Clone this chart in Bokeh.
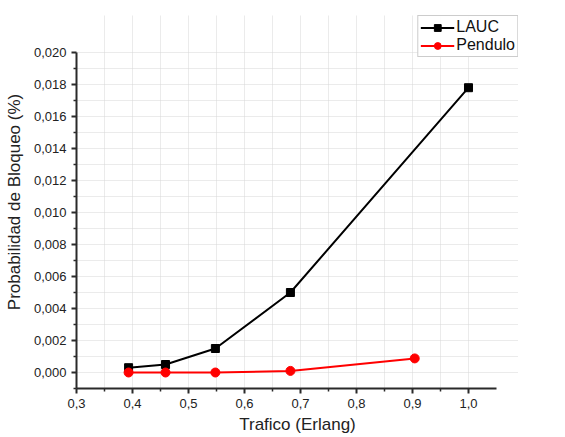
from bokeh.plotting import figure
from bokeh.models import Range1d, FixedTicker, CustomJSTickFormatter, Legend, LegendItem
from bokeh.embed import file_html
from bokeh.resources import INLINE

# Data
lauc_x = [0.393, 0.459, 0.548, 0.682, 1.0]
lauc_y = [0.0003, 0.0005, 0.0015, 0.0050, 0.0178]
pend_x = [0.393, 0.459, 0.548, 0.682, 0.904]
pend_y = [0.0, 0.0, 0.0, 0.0001, 0.00088]
x_ticks = [0.3, 0.4, 0.5, 0.6, 0.7, 0.8, 0.9, 1.0]
y_ticks = [0.000, 0.002, 0.004, 0.006, 0.008, 0.010, 0.012, 0.014, 0.016, 0.018, 0.020]

FONT = "Liberation Sans"

p = figure(width=565, height=437, output_backend="svg", toolbar_location=None,
           x_range=Range1d(0.3, 1.0893), y_range=Range1d(-0.001, 0.022313),
           min_border_left=76, min_border_right=47, min_border_top=15, min_border_bottom=49)
p.outline_line_color = None

p.xaxis.ticker = FixedTicker(ticks=x_ticks, minor_ticks=[0.35 + 0.1 * i for i in range(7)])
p.yaxis.ticker = FixedTicker(ticks=y_ticks, minor_ticks=[-0.001 + 0.002 * i for i in range(11)])
p.xaxis.formatter = CustomJSTickFormatter(code="return tick.toFixed(1).replace('.', ',');")
p.yaxis.formatter = CustomJSTickFormatter(code="return tick.toFixed(3).replace('.', ',');")
p.xaxis.bounds = (0.3, 1.05)
p.yaxis.bounds = (-0.001, 0.020)

for ax in (p.xaxis, p.yaxis):
    ax.axis_line_color = "#2a2a2a"
    ax.axis_line_width = 2
    ax.major_tick_line_color = "#2a2a2a"
    ax.major_tick_line_width = 2
    ax.minor_tick_line_color = "#2a2a2a"
    ax.minor_tick_line_width = 1.5
    ax.major_tick_out = 5
    ax.major_tick_in = 0
    ax.minor_tick_out = 3
    ax.minor_tick_in = 0
    ax.major_label_text_font = FONT
    ax.major_label_text_font_size = "13px"
    ax.major_label_text_color = "#222222"
    ax.axis_label_text_font = FONT
    ax.axis_label_text_font_size = "17px"
    ax.axis_label_text_font_style = "normal"
    ax.axis_label_text_color = "#222222"

p.xaxis.axis_label = "Trafico (Erlang)"
p.yaxis.axis_label = "Probabilidad de Bloqueo (%)"
p.xaxis.major_label_standoff = 5
p.xaxis.axis_label_standoff = 4
p.yaxis.major_label_standoff = 5
p.yaxis.axis_label_standoff = 7

for g in (p.xgrid, p.ygrid):
    g.grid_line_color = "#d6d6d6"
    g.grid_line_dash = "1 1"
    g.grid_line_width = 1
    g.minor_grid_line_color = "#d6d6d6"
    g.minor_grid_line_dash = "1 1"
    g.minor_grid_line_width = 1
p.xgrid.bounds = (0.3, 1.05)
p.ygrid.bounds = (-0.001, 0.020)

l1 = p.line(lauc_x, lauc_y, line_color="black", line_width=2)
m1 = p.scatter(lauc_x, lauc_y, marker="square", size=8, fill_color="black", line_color="black")
l2 = p.line(pend_x, pend_y, line_color="red", line_width=2)
m2 = p.scatter(pend_x, pend_y, marker="circle", size=9, fill_color="red", line_color="red")

legend = Legend(items=[LegendItem(label="LAUC", renderers=[l1, m1]),
                       LegendItem(label="Pendulo", renderers=[l2, m2])],
                location="top_right")
legend.label_text_font = FONT
legend.label_text_font_size = "16px"
legend.label_text_color = "#111111"
legend.border_line_color = "#999999"
legend.border_line_width = 1
legend.background_fill_color = "white"
legend.padding = 2
legend.margin = 0
legend.spacing = 0
legend.glyph_width = 34
legend.glyph_height = 17
legend.label_standoff = 2
legend.label_height = 17
p.add_layout(legend)

open("out.html", "w").write(file_html(p, INLINE))
